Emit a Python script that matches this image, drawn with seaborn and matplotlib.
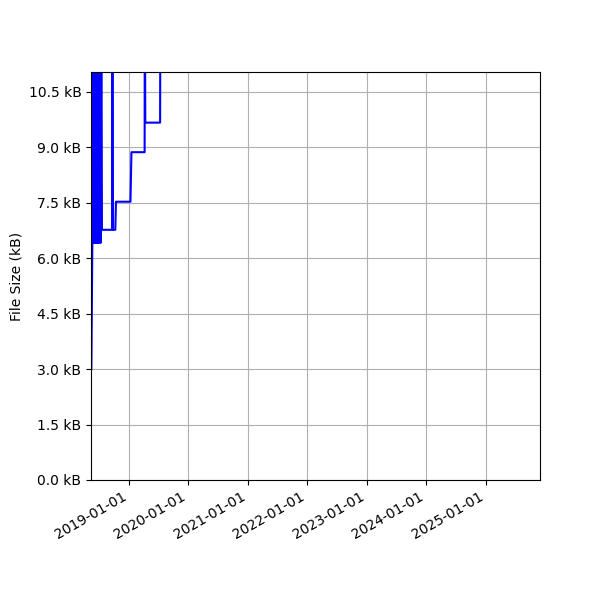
import pandas as pd
import matplotlib
matplotlib.use("Agg")
import matplotlib.pyplot as plt
import matplotlib.dates as mdates
from matplotlib.ticker import FuncFormatter
import seaborn as sns

# fechas de cada version del fichero y su tamaño (kB)
fechas = [
    "2018-05-18", "2018-05-24", "2018-05-28",
    "2018-05-30", "2018-06-01", "2018-06-03", "2018-06-05", "2018-06-07",
    "2018-06-09", "2018-06-12", "2018-06-14", "2018-06-17", "2018-06-19",
    "2018-06-22", "2018-06-25", "2018-06-28", "2018-07-01", "2018-07-04",
    "2018-07-07", "2018-07-10", "2018-07-14", "2018-07-18", "2018-07-22",
    "2018-09-23", "2018-09-24", "2018-09-26", "2018-10-12", "2018-10-16",
    "2019-01-13", "2019-01-19", "2019-04-10", "2019-04-11", "2019-04-14",
    "2019-07-14", "2019-07-16", "2019-08-20", "2019-10-01",
]
tamanos = [
    3.0, 6.42, 6.42,
    14.0, 6.42, 14.0, 6.42, 14.0,
    6.42, 14.0, 6.42, 14.0, 6.42,
    14.0, 6.42, 14.0, 6.42, 14.0,
    6.42, 14.0, 6.42, 14.0, 6.77,
    6.77, 14.0, 6.77, 6.77, 7.53,
    7.53, 8.87, 8.87, 14.0, 9.67,
    9.67, 14.0, 14.5, 15.0,
]

datos = pd.DataFrame({"Fecha": pd.to_datetime(fechas), "Tamano": tamanos})

fig, ax = plt.subplots(figsize=(6, 6), dpi=100)
sns.lineplot(data=datos, x="Fecha", y="Tamano", color="blue", linewidth=1.5,
             estimator=None, sort=False, ax=ax)

ax.set_xlim(pd.Timestamp("2018-05-17"), pd.Timestamp("2025-12-01"))
ax.set_ylim(0, 11.04)
ax.set_yticks([0, 1.5, 3.0, 4.5, 6.0, 7.5, 9.0, 10.5])
ax.yaxis.set_major_formatter(FuncFormatter(lambda v, p: f"{v:.1f} kB"))
ax.xaxis.set_major_locator(mdates.YearLocator())
ax.xaxis.set_major_formatter(mdates.DateFormatter("%Y-%m-%d"))
ax.grid(True, color="#b0b0b0", linewidth=0.8)
ax.set_xlabel("")
ax.set_ylabel("File Size (kB)")

fig.autofmt_xdate()
plt.subplots_adjust(left=0.152, bottom=0.2, right=0.9, top=0.88)
plt.savefig("out.png")
